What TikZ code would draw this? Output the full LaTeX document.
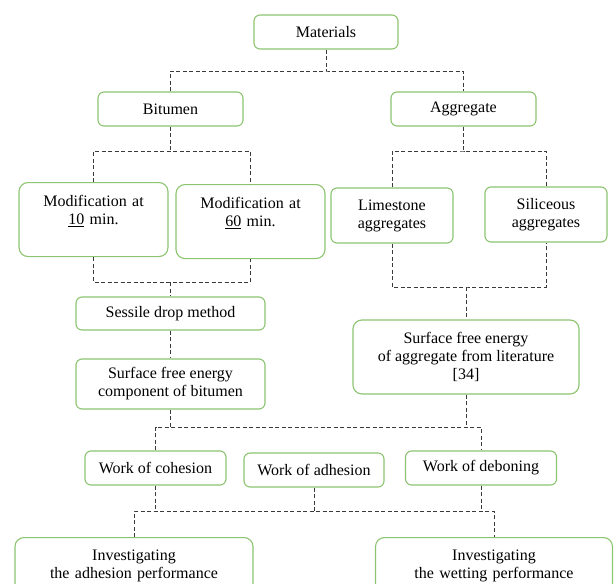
\documentclass[tikz,border=0pt]{standalone}
\usepackage{fontspec}
\setmainfont{Liberation Serif}
\usepackage{tikz}
\usetikzlibrary{calc}
\definecolor{boxgreen}{HTML}{8DC46F}
\definecolor{linkgray}{HTML}{3A3A3A}

\begin{document}
\begin{tikzpicture}[x=1pt,y=-1pt]
\tikzstyle{box}=[draw=boxgreen, line width=1.1pt, rounded corners=6pt, fill=white,
  align=center, inner sep=0pt, font=\fontsize{16}{18}\selectfont]
\tikzstyle{tallbox}=[box, rounded corners=9pt, anchor=north, text depth=50pt]
\tikzstyle{link}=[draw=linkgray, line width=0.9pt, dash pattern=on 4pt off 2.5pt]
\useasboundingbox[fill=white] (0,0) rectangle (614,584);

\node[box, minimum width=144pt, minimum height=34pt] (mat) at (326,32) {Materials};
\node[box, minimum width=145pt, minimum height=34pt] (bit) at (170.5,109) {Bitumen};
\node[box, minimum width=145pt, minimum height=34pt] (agg) at (463.5,109) {Aggregate};

\node[tallbox, text width=149pt, text height=24pt] (m10) at (93.5,182) {Modification at\\ \underline{10} min.};
\node[tallbox, text width=149pt, text height=24pt] (m60) at (250.5,184) {Modification at\\ \underline{60} min.};
\node[box, minimum width=122pt, minimum height=55pt] (lime) at (392,215.5) {Limestone\\ aggregates};
\node[box, minimum width=122pt, minimum height=55pt] (sil) at (546,214.5) {Siliceous\\ aggregates};

\node[box, minimum width=189pt, minimum height=33pt] (sess) at (170.5,313.5) {Sessile drop method};
\node[box, minimum width=189pt, minimum height=50pt] (sfeb) at (170.5,384) {Surface free energy\\ component of bitumen};
\node[box, minimum width=226pt, minimum height=74pt, rounded corners=9pt] (sfea) at (466,357) {Surface free energy\\ of aggregate from literature\\ {[34]}};

\node[box, minimum width=141pt, minimum height=34pt] (coh) at (155.5,468) {Work of cohesion};
\node[box, minimum width=140pt, minimum height=34pt] (adh) at (314,470) {Work of adhesion};
\node[box, minimum width=151pt, minimum height=34pt] (deb) at (481,468) {Work of deboning};

\node[tallbox, text width=238pt, text height=23pt] (inva) at (134,537) {Investigating\\ the adhesion performance};
\node[tallbox, text width=237pt, text height=23pt] (invw) at (494,537) {Investigating\\ the wetting performance};

\coordinate (busA) at (326,71);
\coordinate (busB) at (170.5,151);
\coordinate (busC) at (463.5,151);
\coordinate (busD) at (170.5,282);
\coordinate (busE) at (466,287);
\coordinate (busF) at (316,427);
\coordinate (busG) at (314,511);

\draw[link] (mat) -- (busA);
\draw[link] (bit) |- (busA) -| (agg);
\draw[link] (bit) -- (busB);
\draw[link] (m10) |- (busB) -| (m60);
\draw[link] (agg) -- (busC);
\draw[link] (lime) |- (busC) -| (sil);
\draw[link] (m10) |- (busD) -| (m60);
\draw[link] (busD) -- (sess);
\draw[link] (sess) -- (sfeb);
\draw[link] (lime) |- (busE) -| (sil);
\draw[link] (busE) -- (sfea);
\draw[link] (sfeb) -- (sfeb |- busF);
\draw[link] (sfea) -- (sfea |- busF);
\draw[link] (coh) |- (busF) -| (deb);
\draw[link] (coh) -- (coh |- busG);
\draw[link] (adh) -- (busG);
\draw[link] (deb) -- (deb |- busG);
\draw[link] (inva) |- (busG) -| (invw);
\end{tikzpicture}
\end{document}
